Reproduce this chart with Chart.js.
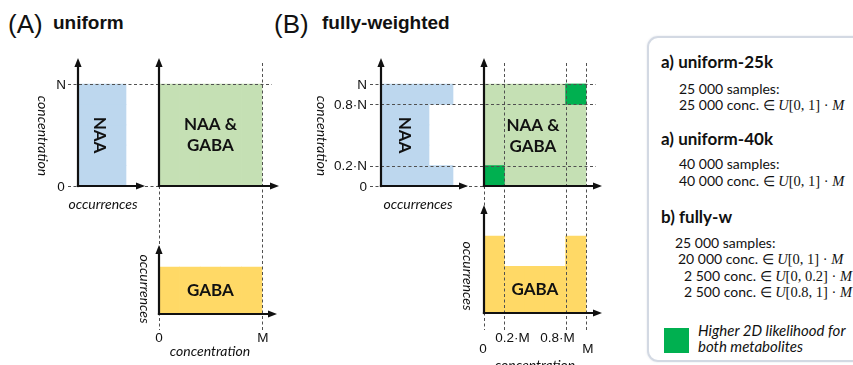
<!DOCTYPE html>
<html>
<head>
<meta charset="utf-8">
<title>Concentration sampling: uniform vs fully-weighted</title>
<script src="https://cdn.jsdelivr.net/npm/chart.js@4.4.1/dist/chart.umd.min.js"></script>
<style>
  html, body { margin: 0; padding: 0; background: #fff; }
  #stage { position: relative; width: 853px; height: 365px; overflow: hidden; color: #111; }
  canvas.layer { position: absolute; left: 0; top: 0; }
  .t { position: absolute; line-height: 1; white-space: nowrap; }
  .sans { font-family: "Liberation Sans", Arial, sans-serif; }
  .lato { font-family: Lato, "Open Sans", sans-serif; }
  .mx { font-family: "Liberation Serif", "DejaVu Serif", serif; font-size: 14.5px; }
  .mx i { font-style: italic; }
  #key { position: absolute; left: 647px; top: 36px; width: 240px; height: 326px; box-sizing: border-box;
         border: 2px solid #d3d9e3; border-radius: 11px; box-shadow: 0 0 2px rgba(160,170,190,0.35); }
  #swatch { position: absolute; left: 664px; top: 328px; width: 25px; height: 25px; background: #00b050; }
</style>
</head>
<body>
<div id="stage">
  <!-- panel titles -->
  <div class="t sans" style="left:8px; top:11px; font-size:26px;">(A)</div>
  <div class="t sans" style="left:53px; top:13px; font-size:19px; font-weight:bold;">uniform</div>
  <div class="t sans" style="left:274px; top:11px; font-size:26px;">(B)</div>
  <div class="t sans" style="left:322px; top:13px; font-size:19px; font-weight:bold;">fully-weighted</div>

  <!-- sampling schemes -->
  <div id="key"></div>
  <div class="t lato" style="left:661px; top:53px; font-size:17px; font-weight:bold;">a) uniform-25k</div>
  <div class="t lato" style="left:679px; top:81.6px; font-size:14px;">25 000 samples:</div>
  <div class="t lato" style="left:679px; top:97.6px; font-size:14px;">25 000 conc. ∈ <span class="mx"><i>U</i>[0, 1] · <i>M</i></span></div>
  <div class="t lato" style="left:661px; top:130px; font-size:17px; font-weight:bold;">a) uniform-40k</div>
  <div class="t lato" style="left:679px; top:156.6px; font-size:14px;">40 000 samples:</div>
  <div class="t lato" style="left:679px; top:173.6px; font-size:14px;">40 000 conc. ∈ <span class="mx"><i>U</i>[0, 1] · <i>M</i></span></div>
  <div class="t lato" style="left:661px; top:208px; font-size:17px; font-weight:bold;">b) fully-w</div>
  <div class="t lato" style="left:675px; top:235.6px; font-size:14px;">25 000 samples:</div>
  <div class="t lato" style="left:678px; top:251.6px; font-size:14px;">20 000 conc. ∈ <span class="mx"><i>U</i>[0, 1] · <i>M</i></span></div>
  <div class="t lato" style="left:684px; top:268.6px; font-size:14px;">2 500 conc. ∈ <span class="mx"><i>U</i>[0, 0.2] · <i>M</i></span></div>
  <div class="t lato" style="left:684px; top:284.6px; font-size:14px;">2 500 conc. ∈ <span class="mx"><i>U</i>[0.8, 1] · <i>M</i></span></div>
  <div id="swatch"></div>
  <div class="t lato" style="left:698px; top:322.7px; font-size:15px; font-style:italic;">Higher 2D likelihood for</div>
  <div class="t lato" style="left:698px; top:338.7px; font-size:15px; font-style:italic;">both metabolites</div>
</div>

<script>
// ---------------------------------------------------------------
// Histogram data: five equal-width bins over [0, 1] (fraction of N or M)
// ---------------------------------------------------------------
const binCentres   = [0.1, 0.3, 0.5, 0.7, 0.9];
const naaUniform   = [1, 1, 1, 1, 1];          // relative occurrences per bin
const gabaUniform  = [1, 1, 1, 1, 1];
const naaWeighted  = [1.5, 1, 1, 1, 1.5];
const gabaWeighted = [1.65, 1, 1, 1, 1.65];

// joint (NAA, GABA) sampling region, per GABA column: concentration span of NAA
const jointFrom = [0, 0, 0, 0, 0];
const jointTo   = [1, 1, 1, 1, 1];

// cells with higher 2D likelihood (GABA column centre, NAA span)
const hotCentres = [0.1, 0.9];
const hotFrom    = [0, 0.8];
const hotTo      = [0.2, 1];

// tick positions and labels
const uniformTicks       = [0, 1];
const weightedTicks      = [0, 0.2, 0.8, 1];
const naaUniformLabels   = ['0', 'N'];
const naaWeightedLabels  = ['0', '0.2·N', '0.8·N', 'N'];
const gabaUniformLabels  = ['0', 'M'];
const gabaWeightedLabels = ['0', '0.2·M', '0.8·M', 'M'];

// ---------------------------------------------------------------
const W = 853, H = 365;
const FILL  = { naa: '#bdd7ee', joint: '#c5e0b4', gaba: '#ffd966', hot: '#00b050' };
const INK   = '#111111';
const GUIDE = '#505050';

// plot rectangles (page pixels): origin at bottom-left, arrow tips at top/right
const AREA = {
  aNaa:   { l: 78,  t: 58,  r: 145, b: 186 },
  aJoint: { l: 159, t: 58,  r: 279, b: 186 },
  aGaba:  { l: 159, t: 245, r: 277, b: 314 },
  bNaa:   { l: 381, t: 58,  r: 468, b: 186 },
  bJoint: { l: 484, t: 58,  r: 602, b: 186 },
  bGaba:  { l: 484, t: 205, r: 602, b: 313 }
};

function layer(id) {
  const c = document.createElement('canvas');
  c.id = id; c.width = W; c.height = H; c.className = 'layer';
  document.getElementById('stage').appendChild(c);
  return c;
}

function linear(min, max, ticks) {
  const s = { type: 'linear', display: false, min: min, max: max, offset: false };
  if (ticks) s.afterBuildTicks = sc => { sc.ticks = ticks.map(v => ({ value: v })); };
  return s;
}

function base(area) {
  return {
    responsive: false, animation: false, events: [], devicePixelRatio: 1,
    layout: { padding: { left: area.l, top: area.t, right: W - area.r, bottom: H - area.b } },
    plugins: { legend: { display: false }, tooltip: { enabled: false } },
    datasets: { bar: { barPercentage: 1, categoryPercentage: 1, borderWidth: 0, grouped: false } }
  };
}

// horizontal histogram: concentration on y, occurrences on x
function naaChart(id, values, ticks, occMax) {
  const o = base(AREA[id]);
  o.indexAxis = 'y';
  o.scales = { x: linear(0, occMax), y: linear(0, 1.255, ticks) };
  return new Chart(layer(id), {
    type: 'bar',
    data: { datasets: [{ label: 'NAA', backgroundColor: FILL.naa,
      data: binCentres.map((c, i) => ({ y: c, x: values[i] })) }] },
    options: o
  });
}

// vertical histogram: concentration on x, occurrences on y
function gabaChart(id, values, ticks, mMax, occMax) {
  const o = base(AREA[id]);
  o.scales = { x: linear(0, mMax, ticks), y: linear(0, occMax) };
  return new Chart(layer(id), {
    type: 'bar',
    data: { datasets: [{ label: 'GABA', backgroundColor: FILL.gaba,
      data: binCentres.map((c, i) => ({ x: c, y: values[i] })) }] },
    options: o
  });
}

// joint region as floating bars, GABA on x, NAA on y
function jointChart(id, ticks, mMax, withHot) {
  const o = base(AREA[id]);
  o.scales = { x: linear(0, mMax, ticks), y: linear(0, 1.255, ticks) };
  const sets = [];
  if (withHot) sets.push({ label: 'higher likelihood', backgroundColor: FILL.hot,
    data: hotCentres.map((c, i) => ({ x: c, y: [hotFrom[i], hotTo[i]] })) });
  sets.push({ label: 'NAA & GABA', backgroundColor: FILL.joint,
    data: binCentres.map((c, i) => ({ x: c, y: [jointFrom[i], jointTo[i]] })) });
  return new Chart(layer(id), { type: 'bar', data: { datasets: sets }, options: o });
}

const aNaa   = naaChart('aNaa', naaUniform, uniformTicks, 1.396);
const aJoint = jointChart('aJoint', uniformTicks, 1.165, false);
const aGaba  = gabaChart('aGaba', gabaUniform, uniformTicks, 1.146, 1.468);
const bNaa   = naaChart('bNaa', naaWeighted, weightedTicks, 1.8125);
const bJoint = jointChart('bJoint', weightedTicks, 1.157, true);
const bGaba  = gabaChart('bGaba', gabaWeighted, weightedTicks, 1.157, 2.32);

// ---------------------------------------------------------------
// decorations: dashed guides, arrowed axes, tick and axis labels
// ---------------------------------------------------------------
const ROT = Math.PI / 2;
const decor = [
  { chart: aNaa,
    hGuides: [{ v: 1, from: 68, to: 272 }, { v: 0, from: 68, to: 159 }],
    yTicks: { values: uniformTicks, labels: naaUniformLabels, x: 61, align: 'center' },
    inner: [{ lines: ['NAA'], xv: 0.45, yv: 0.5, rot: ROT }],
    titles: [{ text: 'concentration', x: 43, y: 136, rot: ROT }, { text: 'occurrences', x: 103, y: 204 }] },
  { chart: aJoint,
    vGuides: [{ v: 1, from: 63, to: 330 }, { v: 0, from: 186, to: 330 }],
    inner: [{ lines: ['NAA &', 'GABA'], xv: 0.5, yv: 0.5 }] },
  { chart: aGaba,
    xTicks: { values: uniformTicks, labels: gabaUniformLabels, y: 342, dx: [0, 1], dy: [0, 0] },
    inner: [{ lines: ['GABA'], xv: 0.5, yv: 0.5 }],
    titles: [{ text: 'occurrences', x: 145, y: 289, rot: ROT }, { text: 'concentration', x: 210, y: 351 }] },
  { chart: bNaa,
    hGuides: [{ v: 1, from: 370, to: 596 }, { v: 0.8, from: 370, to: 596 },
              { v: 0.2, from: 370, to: 596 }, { v: 0, from: 370, to: 484 }],
    yTicks: { values: weightedTicks, labels: naaWeightedLabels, x: 367, align: 'right' },
    inner: [{ lines: ['NAA'], xv: 0.48, yv: 0.5, rot: ROT }],
    titles: [{ text: 'concentration', x: 322, y: 136, rot: ROT }, { text: 'occurrences', x: 418, y: 204 }] },
  { chart: bJoint,
    vGuides: [{ v: 0.2, from: 63, to: 330 }, { v: 0.8, from: 63, to: 330 },
              { v: 1, from: 63, to: 330 }, { v: 0, from: 186, to: 330 }],
    inner: [{ lines: ['NAA &', 'GABA'], xv: 0.48, yv: 0.49 }] },
  { chart: bGaba,
    xTicks: { values: weightedTicks, labels: gabaWeightedLabels, y: 342, dx: [-1, 8, -8, 2], dy: [11, 0, 0, 11] },
    inner: [{ lines: ['GABA'], xv: 0.5, yv: 0.5 }],
    titles: [{ text: 'occurrences', x: 468, y: 276, rot: ROT }, { text: 'concentration', x: 535, y: 365 }] }
];

function seg(ctx, x1, y1, x2, y2) { ctx.beginPath(); ctx.moveTo(x1, y1); ctx.lineTo(x2, y2); ctx.stroke(); }
function tri(ctx, pts) { ctx.beginPath(); ctx.moveTo(pts[0], pts[1]); ctx.lineTo(pts[2], pts[3]); ctx.lineTo(pts[4], pts[5]); ctx.closePath(); ctx.fill(); }
function snap(v) { return Math.round(v) + 0.5; }

function drawGuides(ctx, d) {
  const xs = d.chart.scales.x, ys = d.chart.scales.y;
  ctx.save();
  ctx.strokeStyle = GUIDE; ctx.lineWidth = 1; ctx.setLineDash([3, 2.5]);
  (d.hGuides || []).forEach(g => { const y = snap(ys.getPixelForValue(g.v)); seg(ctx, g.from, y, g.to, y); });
  (d.vGuides || []).forEach(g => { const x = snap(xs.getPixelForValue(g.v)); seg(ctx, x, g.from, x, g.to); });
  ctx.restore();
}

function drawAxes(ctx, d) {
  const a = d.chart.chartArea;
  const x0 = a.left, y0 = a.bottom;
  ctx.save();
  ctx.strokeStyle = INK; ctx.fillStyle = INK; ctx.lineWidth = 2.2; ctx.lineCap = 'butt';
  seg(ctx, x0, y0 + 1.1, x0, a.top + 6);
  tri(ctx, [x0, a.top, x0 - 3.6, a.top + 9, x0 + 3.6, a.top + 9]);
  seg(ctx, x0 - 1.1, y0, a.right - 6, y0);
  tri(ctx, [a.right, y0, a.right - 9, y0 - 3.6, a.right - 9, y0 + 3.6]);
  ctx.restore();
}

function drawText(ctx, text, x, y, rot) {
  ctx.save();
  ctx.translate(x, y);
  if (rot) ctx.rotate(rot);
  ctx.fillText(text, 0, 0);
  ctx.restore();
}

function drawLabels(ctx, d) {
  const xs = d.chart.scales.x, ys = d.chart.scales.y;
  ctx.save();
  ctx.fillStyle = INK;
  ctx.font = '13.5px "Liberation Sans", Arial, sans-serif';
  ctx.textBaseline = 'alphabetic';
  if (d.yTicks) {
    ctx.textAlign = d.yTicks.align;
    d.yTicks.values.forEach((v, i) => ctx.fillText(d.yTicks.labels[i], d.yTicks.x, ys.getPixelForValue(v) + 4.8));
  }
  if (d.xTicks) {
    ctx.textAlign = 'center';
    d.xTicks.values.forEach((v, i) => ctx.fillText(d.xTicks.labels[i],
      xs.getPixelForValue(v) + d.xTicks.dx[i], d.xTicks.y + d.xTicks.dy[i]));
  }
  ctx.textAlign = 'center'; ctx.textBaseline = 'middle';
  ctx.font = 'bold 17px Lato, "Open Sans", sans-serif';
  (d.inner || []).forEach(lb => {
    const cx = xs.getPixelForValue(lb.xv), cy = ys.getPixelForValue(lb.yv);
    const n = lb.lines.length;
    lb.lines.forEach((t, i) => {
      const off = (i - (n - 1) / 2) * 21;
      if (lb.rot) drawText(ctx, t, cx - off, cy, lb.rot);
      else drawText(ctx, t, cx, cy + off, 0);
    });
  });
  ctx.font = 'italic 14px Lato, "Open Sans", sans-serif';
  (d.titles || []).forEach(tt => drawText(ctx, tt.text, tt.x, tt.y, tt.rot || 0));
  ctx.restore();
}

// top layer: draws the decorations of every panel over all fills
new Chart(layer('overlay'), {
  type: 'bar',
  data: { datasets: [] },
  options: Object.assign(base({ l: 0, t: 0, r: W, b: H }), {
    scales: { x: { type: 'linear', display: false }, y: { type: 'linear', display: false } }
  }),
  plugins: [{
    id: 'sketchDecor',
    afterDraw(chart) {
      const ctx = chart.ctx;
      decor.forEach(d => drawGuides(ctx, d));
      decor.forEach(d => drawAxes(ctx, d));
      decor.forEach(d => drawLabels(ctx, d));
    }
  }]
});
</script>
</body>
</html>
